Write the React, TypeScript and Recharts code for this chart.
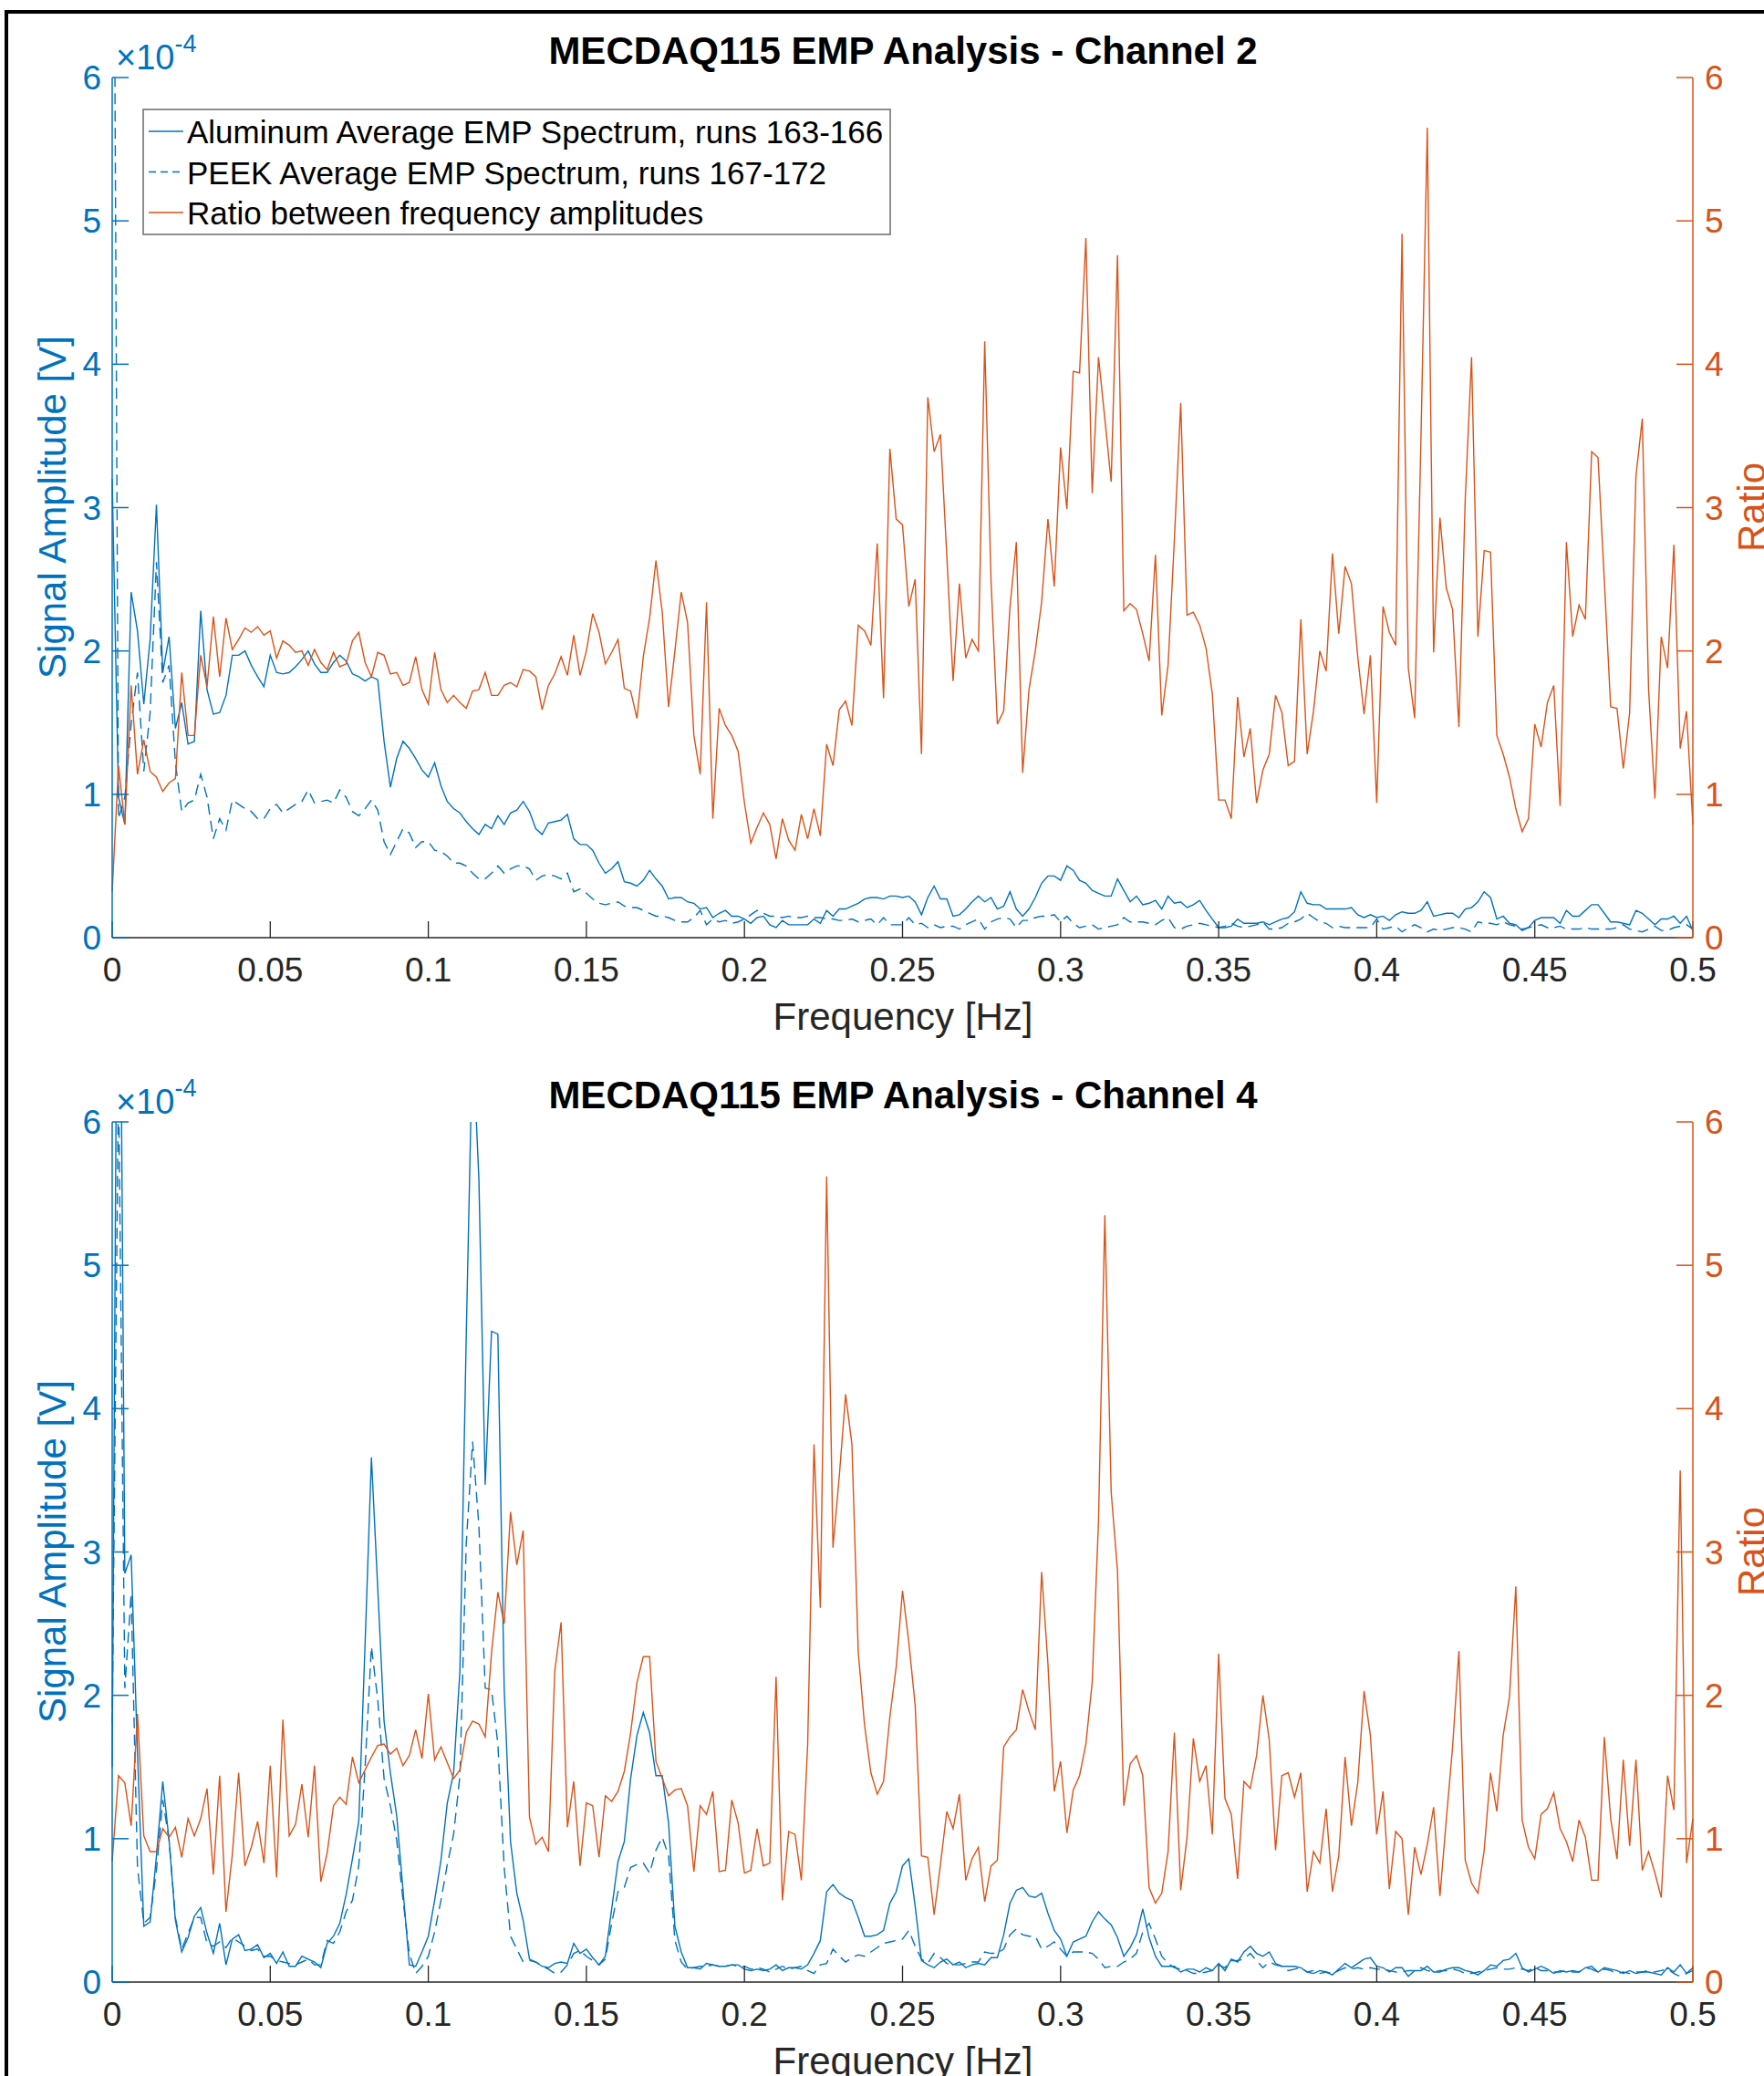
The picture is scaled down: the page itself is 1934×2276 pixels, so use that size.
import { LineChart, Line, XAxis, YAxis } from 'recharts';

const PAGE_W = 1934;
const PAGE_H = 2276;
const PANEL_H = 1145;
const FREQ_STEP = 0.002; // Hz per FFT bin

const BLUE = '#0072BD';
const ORANGE = '#D95319';
const INK = '#262626';
const FONT = '"Liberation Sans", Arial, Helvetica, sans-serif';

const freqTicks = [0, 0.05, 0.1, 0.15, 0.2, 0.25, 0.3, 0.35, 0.4, 0.45, 0.5];
const ampTicks = [0, 1, 2, 3, 4, 5, 6]; // x 1e-4 V
const ratioTicks = [0, 1, 2, 3, 4, 5, 6];

const legendLabels = [
  'Aluminum Average EMP Spectrum, runs 163-166',
  'PEEK Average EMP Spectrum, runs 167-172',
  'Ratio between frequency amplitudes',
];

// ---- Channel 2 (amplitudes in units of 1e-4 V) ----
const ch2Aluminum = [
  3.2, 0.98, 0.79, 2.41, 2.14, 1.63, 2.08, 3.02, 1.85, 2.1,
  1.46, 1.64, 1.35, 1.37, 2.28, 1.73, 1.56, 1.57, 1.69, 1.97,
  1.97, 2.0, 1.9, 1.82, 1.75, 1.97, 1.85, 1.84, 1.85, 1.89,
  1.94, 2.0, 1.91, 1.85, 1.85, 1.92, 1.97, 1.93, 1.84, 1.82,
  1.79, 1.82, 1.8, 1.37, 1.05, 1.25, 1.37, 1.32, 1.25, 1.17,
  1.12, 1.22, 1.06, 0.95, 0.9, 0.87, 0.81, 0.76, 0.72, 0.79,
  0.76, 0.85, 0.79, 0.87, 0.89, 0.95, 0.88, 0.76, 0.72, 0.8,
  0.81, 0.82, 0.86, 0.69, 0.65, 0.65, 0.61, 0.52, 0.45, 0.48,
  0.53, 0.39, 0.38, 0.36, 0.4, 0.47, 0.41, 0.36, 0.27, 0.28,
  0.28, 0.25, 0.24, 0.2, 0.21, 0.14, 0.17, 0.19, 0.15, 0.15,
  0.13, 0.1, 0.14, 0.15, 0.09, 0.07, 0.12, 0.09, 0.09, 0.09,
  0.09, 0.13, 0.1, 0.19, 0.15, 0.2, 0.2, 0.22, 0.24, 0.27,
  0.28, 0.28, 0.27, 0.29, 0.29, 0.28, 0.29, 0.25, 0.16, 0.28,
  0.36, 0.27, 0.27, 0.15, 0.16, 0.2, 0.25, 0.29, 0.25, 0.28,
  0.2, 0.22, 0.32, 0.2, 0.15, 0.2, 0.28, 0.38, 0.43, 0.43,
  0.4, 0.5, 0.47, 0.4, 0.38, 0.33, 0.31, 0.29, 0.29, 0.41,
  0.33, 0.25, 0.29, 0.23, 0.24, 0.26, 0.2, 0.29, 0.24, 0.25,
  0.21, 0.23, 0.26, 0.19, 0.13, 0.07, 0.07, 0.08, 0.13, 0.1,
  0.1, 0.1, 0.11, 0.09, 0.11, 0.13, 0.14, 0.18, 0.32, 0.24,
  0.23, 0.23, 0.2, 0.2, 0.2, 0.2, 0.21, 0.16, 0.14, 0.16,
  0.14, 0.15, 0.12, 0.16, 0.18, 0.17, 0.17, 0.19, 0.25, 0.15,
  0.16, 0.17, 0.17, 0.14, 0.2, 0.21, 0.25, 0.32, 0.28, 0.13,
  0.15, 0.1, 0.09, 0.05, 0.07, 0.12, 0.14, 0.14, 0.14, 0.1,
  0.19, 0.15, 0.15, 0.19, 0.23, 0.23, 0.17, 0.11, 0.11, 0.1,
  0.09, 0.19, 0.17, 0.13, 0.09, 0.13, 0.13, 0.15, 0.1, 0.15,
  0.05,
];

const ch2Peek = [
  10.0, 0.83, 0.98, 1.49, 1.85, 1.16, 1.57, 2.62, 1.78, 1.9,
  1.22, 0.88, 0.94, 0.96, 1.14, 0.98, 0.69, 0.83, 0.75, 0.96,
  0.93, 0.9, 0.88, 0.83, 0.83, 0.9, 0.93, 0.87, 0.9, 0.93,
  0.95, 1.03, 0.94, 0.95, 0.96, 0.94, 1.03, 0.98, 0.88, 0.85,
  0.9, 0.96, 0.89, 0.67, 0.58, 0.67, 0.76, 0.73, 0.63, 0.67,
  0.67, 0.61, 0.6, 0.57, 0.52, 0.52, 0.5, 0.45, 0.41, 0.41,
  0.45, 0.5, 0.45, 0.48, 0.5, 0.5, 0.48, 0.4, 0.43, 0.44,
  0.43, 0.41, 0.45, 0.32, 0.34, 0.31, 0.27, 0.24, 0.23, 0.24,
  0.25, 0.22, 0.21, 0.21, 0.19, 0.17, 0.15, 0.15, 0.14, 0.12,
  0.11, 0.11, 0.14, 0.19, 0.09, 0.13, 0.11, 0.12, 0.1, 0.11,
  0.13, 0.16, 0.19, 0.17, 0.15, 0.15, 0.14, 0.15, 0.14, 0.14,
  0.15, 0.14, 0.14, 0.13, 0.13, 0.12, 0.12, 0.13, 0.11, 0.12,
  0.13, 0.09, 0.14, 0.09, 0.09, 0.09, 0.14, 0.09, 0.1, 0.07,
  0.09, 0.07, 0.08, 0.08, 0.06, 0.09, 0.11, 0.13, 0.06, 0.11,
  0.13, 0.14, 0.13, 0.07, 0.12, 0.12, 0.14, 0.15, 0.15, 0.16,
  0.11, 0.15, 0.1, 0.07, 0.08, 0.09, 0.06, 0.07, 0.08, 0.09,
  0.14, 0.11, 0.11, 0.11, 0.1, 0.09, 0.12, 0.14, 0.07, 0.06,
  0.08, 0.09, 0.1, 0.09, 0.08, 0.07, 0.08, 0.1, 0.08, 0.07,
  0.08, 0.09, 0.11, 0.06, 0.06, 0.07, 0.1, 0.11, 0.13, 0.17,
  0.14, 0.11, 0.1, 0.07, 0.08, 0.07, 0.07, 0.07, 0.07, 0.07,
  0.13, 0.06, 0.07, 0.08, 0.04, 0.07, 0.09, 0.07, 0.04, 0.06,
  0.05, 0.06, 0.07, 0.07, 0.06, 0.04, 0.11, 0.1, 0.1, 0.09,
  0.11, 0.09, 0.08, 0.06, 0.07, 0.08, 0.09, 0.07, 0.07, 0.08,
  0.06, 0.06, 0.06, 0.07, 0.06, 0.06, 0.06, 0.06, 0.07, 0.09,
  0.06, 0.05, 0.04, 0.06, 0.08, 0.05, 0.05, 0.07, 0.08, 0.09,
  0.06,
];

const ch2Ratio = [
  0.32, 1.2, 0.79, 1.76, 1.14, 1.38, 1.16, 1.12, 1.02, 1.08,
  1.11, 1.85, 1.41, 1.41, 1.97, 1.75, 2.24, 1.82, 2.23, 2.01,
  2.08, 2.16, 2.13, 2.17, 2.11, 2.14, 1.95, 2.07, 2.04, 1.99,
  2.0, 1.9, 2.01, 1.92, 1.87, 1.99, 1.89, 1.91, 2.07, 2.13,
  1.92, 1.82, 1.99, 1.97, 1.84, 1.85, 1.76, 1.78, 1.96, 1.73,
  1.63, 1.99, 1.73, 1.64, 1.69, 1.64, 1.6, 1.72, 1.73, 1.85,
  1.69, 1.69, 1.76, 1.78, 1.75, 1.87, 1.86, 1.82, 1.59, 1.76,
  1.84, 1.96, 1.83, 2.11, 1.83, 2.0, 2.26, 2.13, 1.91, 1.99,
  2.08, 1.74, 1.72, 1.53, 1.96, 2.23, 2.63, 2.27, 1.61, 2.0,
  2.41, 2.2, 1.41, 1.14, 2.34, 0.83, 1.6, 1.48, 1.41, 1.3,
  0.94, 0.66, 0.77, 0.87, 0.79, 0.55, 0.83, 0.68, 0.61, 0.86,
  0.69, 0.9, 0.71, 1.35, 1.2, 1.59, 1.65, 1.48, 2.18, 2.14,
  2.04, 2.75, 1.67, 3.41, 2.92, 2.88, 2.31, 2.5, 1.28, 3.77,
  3.39, 3.51, 2.67, 1.79, 2.47, 1.95, 2.08, 2.0, 4.16, 2.49,
  1.49, 1.58, 2.31, 2.76, 1.15, 1.73, 2.0, 2.34, 2.92, 2.45,
  3.42, 2.99, 3.95, 3.94, 4.88, 3.1, 4.05, 3.62, 3.18, 4.76,
  2.28, 2.33, 2.29, 2.12, 1.93, 2.67, 1.55, 1.9, 2.78, 3.73,
  2.25, 2.27, 2.18, 2.02, 1.7, 0.96, 0.96, 0.83, 1.68, 1.26,
  1.46, 0.94, 1.17, 1.28, 1.69, 1.57, 1.2, 1.23, 2.22, 1.28,
  1.58, 2.0, 1.86, 2.68, 2.12, 2.59, 2.47, 1.96, 1.56, 1.97,
  0.94, 2.31, 2.13, 2.04, 4.91, 1.88, 1.53, 3.49, 5.65, 1.99,
  2.93, 2.44, 2.29, 1.47, 3.06, 4.05, 2.1, 2.7, 2.69, 1.41,
  1.28, 1.12, 0.9, 0.74, 0.83, 1.49, 1.33, 1.64, 1.76, 0.92,
  2.76, 2.1, 2.32, 2.22, 3.39, 3.35, 2.49, 1.61, 1.6, 1.18,
  1.57, 3.22, 3.62, 1.73, 0.97, 2.1, 1.88, 2.74, 1.32, 1.58,
  0.79,
];

// ---- Channel 4 (amplitudes in units of 1e-4 V) ----
const ch4Aluminum = [
  1.5, 9.0, 2.85, 2.98, 1.6, 0.39, 0.42, 0.88, 1.4, 0.99,
  0.43, 0.21, 0.31, 0.46, 0.52, 0.34, 0.2, 0.41, 0.12, 0.3,
  0.33, 0.22, 0.23, 0.26, 0.17, 0.2, 0.13, 0.21, 0.11, 0.11,
  0.18, 0.16, 0.14, 0.1, 0.27, 0.32, 0.41, 0.61, 0.86, 1.12,
  2.36, 3.66, 2.75, 1.82, 1.46, 1.16, 0.64, 0.12, 0.11, 0.21,
  0.32, 0.57, 0.85, 1.25, 1.46, 2.17, 4.51, 6.6, 5.6, 3.47,
  4.54, 4.52, 2.05, 0.98, 0.62, 0.43, 0.16, 0.14, 0.11, 0.1,
  0.13, 0.14, 0.13, 0.27, 0.2, 0.23, 0.17, 0.12, 0.18, 0.51,
  0.84, 0.98, 1.42, 1.72, 1.88, 1.74, 1.44, 1.44, 1.11, 0.39,
  0.21, 0.1, 0.1, 0.09, 0.13, 0.12, 0.11, 0.11, 0.12, 0.12,
  0.09, 0.08, 0.09, 0.08, 0.09, 0.12, 0.08, 0.1, 0.1, 0.09,
  0.12, 0.2, 0.29, 0.63, 0.68, 0.62, 0.59, 0.57, 0.45, 0.32,
  0.32, 0.33, 0.36, 0.55, 0.63, 0.81, 0.86, 0.53, 0.15, 0.12,
  0.1, 0.14, 0.16, 0.12, 0.14, 0.1, 0.12, 0.13, 0.12, 0.17,
  0.17, 0.33, 0.55, 0.64, 0.66, 0.6, 0.59, 0.62, 0.48, 0.36,
  0.3, 0.18, 0.28, 0.3, 0.32, 0.42, 0.49, 0.44, 0.4, 0.31,
  0.18, 0.24, 0.33, 0.51, 0.31, 0.18, 0.11, 0.11, 0.11, 0.07,
  0.09, 0.09, 0.07, 0.1, 0.08, 0.13, 0.08, 0.16, 0.14, 0.21,
  0.25, 0.2, 0.18, 0.21, 0.13, 0.11, 0.11, 0.11, 0.1, 0.07,
  0.06, 0.08, 0.07, 0.05, 0.09, 0.13, 0.1, 0.13, 0.16, 0.17,
  0.11, 0.1, 0.07, 0.1, 0.1, 0.04, 0.08, 0.08, 0.11, 0.07,
  0.07, 0.09, 0.1, 0.1, 0.08, 0.07, 0.05, 0.08, 0.12, 0.11,
  0.15, 0.16, 0.2, 0.1, 0.07, 0.09, 0.11, 0.09, 0.06, 0.08,
  0.07, 0.08, 0.07, 0.1, 0.11, 0.07, 0.1, 0.09, 0.08, 0.06,
  0.08, 0.06, 0.07, 0.07, 0.06, 0.05, 0.1, 0.07, 0.12, 0.06,
  0.1,
];

const ch4Peek = [
  1.8, 6.3, 2.05, 2.71, 0.8, 0.41, 0.45, 0.78, 1.27, 0.99,
  0.45, 0.23, 0.34, 0.45, 0.45, 0.27, 0.25, 0.28, 0.24, 0.31,
  0.28, 0.25, 0.22, 0.23, 0.18, 0.18, 0.15, 0.14, 0.13, 0.12,
  0.14, 0.16, 0.12, 0.12, 0.29, 0.27, 0.35, 0.49, 0.57, 0.81,
  1.5, 2.34, 1.97, 1.42, 1.23, 0.99, 0.57, 0.2, 0.06, 0.11,
  0.18, 0.35, 0.57, 0.82, 1.03, 1.44, 3.06, 3.77, 3.18, 2.05,
  2.04, 1.66, 0.8, 0.32, 0.23, 0.14, 0.15, 0.14, 0.11, 0.09,
  0.06, 0.07, 0.12, 0.2, 0.22, 0.18, 0.15, 0.12, 0.16, 0.41,
  0.63, 0.66, 0.8, 0.82, 0.83, 0.76, 0.92, 1.01, 0.88, 0.29,
  0.14, 0.09, 0.1, 0.11, 0.11, 0.12, 0.11, 0.11, 0.12, 0.11,
  0.11, 0.09, 0.1, 0.09, 0.07, 0.09, 0.11, 0.09, 0.1, 0.11,
  0.08, 0.06, 0.12, 0.13, 0.23, 0.18, 0.14, 0.17, 0.19, 0.18,
  0.21, 0.24, 0.27, 0.28, 0.29, 0.3, 0.36, 0.25, 0.16, 0.13,
  0.2, 0.17, 0.13, 0.12, 0.12, 0.13, 0.14, 0.14, 0.21, 0.2,
  0.2, 0.23, 0.33, 0.37, 0.33, 0.32, 0.32, 0.23, 0.25, 0.28,
  0.23, 0.18, 0.21, 0.21, 0.21, 0.2, 0.16, 0.1, 0.11, 0.11,
  0.14, 0.16, 0.2, 0.35, 0.41, 0.3, 0.18, 0.13, 0.1, 0.09,
  0.08, 0.06, 0.06, 0.07, 0.08, 0.12, 0.1, 0.15, 0.15, 0.16,
  0.2, 0.15, 0.1, 0.14, 0.12, 0.11, 0.08, 0.09, 0.1, 0.07,
  0.08, 0.06, 0.07, 0.06, 0.08, 0.1, 0.09, 0.1, 0.09, 0.1,
  0.09, 0.09, 0.08, 0.07, 0.07, 0.08, 0.08, 0.1, 0.08, 0.07,
  0.08, 0.08, 0.09, 0.08, 0.06, 0.06, 0.07, 0.08, 0.09, 0.1,
  0.09, 0.09, 0.1, 0.09, 0.08, 0.1, 0.08, 0.08, 0.07, 0.07,
  0.08, 0.07, 0.07, 0.1, 0.09, 0.07, 0.09, 0.08, 0.06, 0.07,
  0.06, 0.07, 0.07, 0.08, 0.07, 0.08, 0.09, 0.06, 0.04, 0.06,
  0.08,
];

const ch4Ratio = [
  0.84, 1.44, 1.39, 1.09, 1.87, 1.02, 0.91, 0.91, 1.07, 1.01,
  1.08, 0.87, 1.14, 1.02, 1.14, 1.35, 0.75, 1.44, 0.49, 0.89,
  1.46, 0.81, 0.94, 1.12, 0.83, 1.51, 0.73, 1.83, 1.02, 1.1,
  1.38, 1.01, 1.51, 0.7, 0.9, 1.23, 1.29, 1.24, 1.57, 1.39,
  1.48, 1.57, 1.65, 1.66, 1.59, 1.63, 1.51, 1.58, 1.76, 1.56,
  2.01, 1.55, 1.64, 1.53, 1.42, 1.48, 1.74, 1.82, 1.8, 1.71,
  2.3, 2.72, 2.5, 3.28, 2.91, 3.15, 1.15, 0.96, 1.01, 0.91,
  2.17, 2.51, 1.08, 1.4, 0.81, 1.25, 1.23, 0.87, 1.3, 1.26,
  1.33, 1.47, 1.74, 2.09, 2.27, 2.27, 1.54, 1.42, 1.3, 1.34,
  1.35, 1.23, 0.77, 1.23, 1.17, 1.33, 0.77, 0.78, 1.27, 1.11,
  0.76, 0.78, 1.07, 0.81, 0.83, 2.13, 0.57, 1.05, 1.03, 0.71,
  1.66, 3.75, 2.61, 5.62, 3.03, 3.53, 4.1, 3.75, 2.3, 1.79,
  1.46, 1.31, 1.4, 1.85, 2.2, 2.73, 2.37, 1.93, 0.88, 0.87,
  0.47, 0.82, 1.19, 1.07, 1.31, 0.71, 0.86, 0.94, 0.56, 0.81,
  0.85, 1.64, 1.71, 1.76, 2.04, 1.89, 1.76, 2.86, 2.22, 1.33,
  1.54, 1.04, 1.34, 1.44, 1.66, 2.09, 3.22, 5.35, 3.42, 2.87,
  1.23, 1.52, 1.58, 1.44, 0.66, 0.55, 0.62, 0.91, 1.74, 0.64,
  1.01, 1.7, 1.4, 1.51, 1.03, 2.29, 1.28, 1.17, 0.72, 1.4,
  1.35, 1.58, 2.0, 1.69, 0.92, 1.44, 1.46, 1.29, 1.46, 0.63,
  0.91, 0.83, 1.21, 0.63, 0.88, 1.57, 1.09, 1.39, 2.03, 1.72,
  1.03, 1.33, 0.65, 1.05, 1.0, 0.47, 0.94, 0.75, 0.96, 1.22,
  0.6, 1.13, 1.64, 2.31, 0.85, 0.69, 0.62, 0.92, 1.46, 1.19,
  1.72, 1.99, 2.76, 1.13, 0.94, 0.86, 1.17, 1.21, 1.32, 1.07,
  0.98, 0.84, 1.13, 1.01, 0.71, 0.71, 1.71, 1.14, 0.86, 1.55,
  0.95, 1.55, 0.78, 0.91, 0.76, 0.59, 1.44, 1.2, 3.57, 0.83,
  1.14,
];

type Row = { f: number; alu: number; peek: number; ratio: number };

const toRows = (alu: number[], peek: number[], ratio: number[]): Row[] =>
  alu.map((a, i) => ({ f: i * FREQ_STEP, alu: a, peek: peek[i], ratio: ratio[i] }));

const ch2Rows = toRows(ch2Aluminum, ch2Peek, ch2Ratio);
const ch4Rows = toRows(ch4Aluminum, ch4Peek, ch4Ratio);

const tickFont = { fontSize: 37, fontFamily: FONT };

const Panel = ({ top, rows }: { top: number; rows: Row[] }) => (
  <div style={{ position: 'absolute', left: 0, top, width: PAGE_W, height: PANEL_H }}>
    <LineChart
      width={PAGE_W}
      height={PANEL_H}
      data={rows}
      margin={{ top: 85, right: 0, bottom: 0, left: 0 }}
    >
      <XAxis
        dataKey='f'
        type='number'
        domain={[0, 0.5]}
        ticks={freqTicks}
        interval={0}
        height={117}
        tickSize={-18}
        tickMargin={40}
        tickFormatter={(v: number) => String(v)}
        axisLine={{ stroke: INK, strokeWidth: 1.3 }}
        tickLine={{ stroke: INK, strokeWidth: 1.3 }}
        tick={{ fill: INK, ...tickFont }}
      />
      <XAxis
        xAxisId='top'
        orientation='top'
        dataKey='f'
        type='number'
        domain={[0, 0.5]}
        ticks={freqTicks}
        interval={0}
        height={0}
        tickSize={-18}
        tick={false}
        axisLine={{ stroke: INK, strokeWidth: 1.3 }}
        tickLine={{ stroke: INK, strokeWidth: 1.3 }}
      />
      <YAxis
        yAxisId='amp'
        width={123}
        domain={[0, 6]}
        ticks={ampTicks}
        interval={0}
        allowDataOverflow
        tickSize={-18}
        tickMargin={30}
        axisLine={{ stroke: BLUE, strokeWidth: 1.5 }}
        tickLine={{ stroke: BLUE, strokeWidth: 1.5 }}
        tick={{ fill: BLUE, ...tickFont }}
      />
      <YAxis
        yAxisId='ratio'
        orientation='right'
        width={78}
        domain={[0, 6]}
        ticks={ratioTicks}
        interval={0}
        allowDataOverflow
        tickSize={-18}
        tickMargin={31}
        axisLine={{ stroke: ORANGE, strokeWidth: 1.5 }}
        tickLine={{ stroke: ORANGE, strokeWidth: 1.5 }}
        tick={{ fill: ORANGE, ...tickFont }}
      />
      <Line
        yAxisId='amp'
        dataKey='alu'
        type='linear'
        stroke={BLUE}
        strokeWidth={1.4}
        dot={false}
        activeDot={false}
        isAnimationActive={false}
      />
      <Line
        yAxisId='amp'
        dataKey='peek'
        type='linear'
        stroke={BLUE}
        strokeWidth={1.4}
        strokeDasharray='12 7'
        dot={false}
        activeDot={false}
        isAnimationActive={false}
      />
      <Line
        yAxisId='ratio'
        dataKey='ratio'
        type='linear'
        stroke={ORANGE}
        strokeWidth={1.4}
        dot={false}
        activeDot={false}
        isAnimationActive={false}
      />
    </LineChart>
  </div>
);

// titles, axis labels, exponent and legend drawn over both panels
const Annotations = ({ dy, title }: { dy: number; title: string }) => (
  <g fontFamily={FONT}>
    <text x={990} y={70 + dy} textAnchor='middle' fontSize={42} fontWeight='bold' fill='#000'>
      {title}
    </text>
    <text x={127} y={76 + dy} fontSize={38} fill={BLUE}>
      ×10
      <tspan dy={-19} fontSize={27}>
        -4
      </tspan>
    </text>
    <text
      x={72}
      y={556 + dy}
      textAnchor='middle'
      fontSize={42}
      fill={BLUE}
      transform={`rotate(-90 72 ${556 + dy})`}
    >
      Signal Amplitude [V]
    </text>
    <text
      x={1935}
      y={556 + dy}
      textAnchor='middle'
      fontSize={42}
      fill={ORANGE}
      transform={`rotate(-90 1935 ${556 + dy})`}
    >
      Ratio
    </text>
    <text x={990} y={1129 + dy} textAnchor='middle' fontSize={42} fill={INK}>
      Frequency [Hz]
    </text>
  </g>
);

const LegendBox = () => (
  <g fontFamily={FONT}>
    <rect x={157} y={120} width={819} height={137} fill='#fff' stroke='#6a6a6a' strokeWidth={1.5} />
    {legendLabels.map((label, i) => {
      const cy = 144 + i * 44.5;
      return (
        <g key={label}>
          <line
            x1={163}
            x2={201}
            y1={cy}
            y2={cy}
            stroke={i === 2 ? ORANGE : BLUE}
            strokeWidth={1.4}
            strokeDasharray={i === 1 ? '8 5' : undefined}
          />
          <text x={205} y={cy + 13} fontSize={35} fill='#000'>
            {label}
          </text>
        </g>
      );
    })}
  </g>
);

export default function App() {
  return (
    <div
      style={{
        position: 'absolute',
        left: 0,
        top: 0,
        width: PAGE_W,
        height: PAGE_H,
        overflow: 'hidden',
        background: '#fff',
      }}
    >
      <Panel top={0} rows={ch2Rows} />
      <Panel top={PANEL_H} rows={ch4Rows} />
      <svg
        width={PAGE_W}
        height={PAGE_H}
        style={{ position: 'absolute', left: 0, top: 0, pointerEvents: 'none' }}
      >
        <Annotations dy={0} title='MECDAQ115 EMP Analysis - Channel 2' />
        <Annotations dy={PANEL_H} title='MECDAQ115 EMP Analysis - Channel 4' />
        <LegendBox />
        <rect x={5} y={11} width={PAGE_W - 5} height={4} fill='#000' />
        <rect x={5} y={11} width={4} height={PAGE_H - 11} fill='#000' />
      </svg>
    </div>
  );
}
